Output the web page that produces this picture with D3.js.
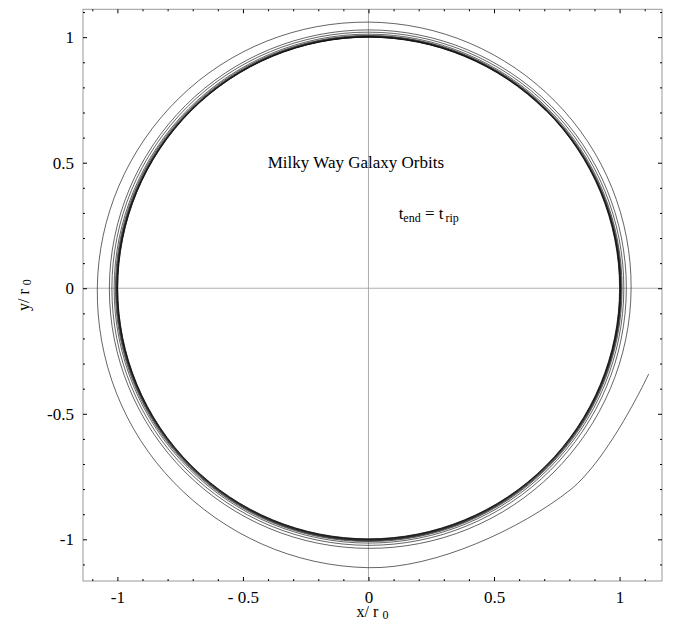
<!DOCTYPE html>
<html>
<head>
<meta charset="utf-8">
<script src="https://cdn.jsdelivr.net/npm/d3@7"></script>
<style>
body { margin: 0; background: #fff; }
text { font-family: "Liberation Serif", "Times New Roman", serif; fill: #000; }
</style>
</head>
<body>
<svg id="chart"></svg>
<script>
// axis ticks
var majorTicks = [-1, -0.5, 0, 0.5, 1];
var xTickLabels = ["-1", "- 0.5", "0", "0.5", "1"];
var yTickLabels = ["-1", "-0.5", "0", "0.5", "1"];
var minorTicks = [-1.1, -0.9, -0.8, -0.7, -0.6, -0.4, -0.3, -0.2, -0.1,
                  0.1, 0.2, 0.3, 0.4, 0.6, 0.7, 0.8, 0.9, 1.1];

// orbit radius (in r0) read at these angles, one row per turn
var sampleAngles = [0, 45, 90, 135, 180, 225, 270, 315];
var orbitRadii = [
    [0.999, 0.999, 1.000, 0.999, 0.999, 0.998, 0.998, 0.999],
    [1.000, 1.000, 1.000, 1.000, 0.999, 0.999, 0.999, 1.000],
    [1.001, 1.001, 1.001, 1.000, 1.000, 1.000, 1.000, 1.001],
    [1.002, 1.002, 1.001, 1.001, 1.001, 1.001, 1.001, 1.002],
    [1.003, 1.002, 1.002, 1.002, 1.002, 1.002, 1.003, 1.003],
    [1.004, 1.003, 1.003, 1.003, 1.003, 1.004, 1.004, 1.005],
    [1.005, 1.005, 1.005, 1.005, 1.005, 1.006, 1.006, 1.007],
    [1.007, 1.007, 1.007, 1.008, 1.008, 1.009, 1.009, 1.010],
    [1.010, 1.011, 1.012, 1.012, 1.013, 1.014, 1.015, 1.016],
    [1.017, 1.019, 1.020, 1.021, 1.022, 1.023, 1.024, 1.025],
    [1.027, 1.028, 1.029, 1.030, 1.032, 1.034, 1.036, 1.040],
    [1.046, 1.052, 1.060, 1.069, 1.080, 1.095, 1.113, 1.136]
];
var orbitEnd = { angle: 343, radius: 1.167 };

var titleText = "Milky Way Galaxy Orbits";

make_orbit_chart = function () {

    var width = 677, height = 622;
    var margin = { top: 9.3, right: 15, bottom: 41, left: 83 };

    var x = d3.scaleLinear()
        .domain([-1.137, 1.169])
        .range([margin.left, width - margin.right]);

    var y = d3.scaleLinear()
        .domain([-1.166, 1.111])
        .range([height - margin.bottom, margin.top]);

    var svg = d3.select("#chart")
        .attr("width", width)
        .attr("height", height);

    // zero axes
    svg.append("line")
        .attr("x1", x(0)).attr("x2", x(0))
        .attr("y1", y.range()[0]).attr("y2", y.range()[1])
        .attr("stroke", "#999").attr("stroke-width", 0.8);
    svg.append("line")
        .attr("x1", x.range()[0]).attr("x2", x.range()[1])
        .attr("y1", y(0)).attr("y2", y(0))
        .attr("stroke", "#999").attr("stroke-width", 0.8);

    // orbit points
    var pts = [];
    orbitRadii.forEach(function (turn) {
        turn.forEach(function (r, j) {
            var a = sampleAngles[j] * Math.PI / 180;
            pts.push([r * Math.cos(a), r * Math.sin(a)]);
        });
    });
    var ea = orbitEnd.angle * Math.PI / 180;
    pts.push([orbitEnd.radius * Math.cos(ea), orbitEnd.radius * Math.sin(ea)]);
    var n = pts.length;

    var orbit = d3.line()
        .x(d => x(d[0]))
        .y(d => y(d[1]));

    // main loops: open spline, outer points only steer the tangents
    svg.append("path")
        .datum(pts.slice(0, n - 1))
        .attr("fill", "none")
        .attr("stroke", "#111")
        .attr("stroke-width", 0.65)
        .attr("d", orbit.curve(d3.curveCardinalOpen.tension(-0.125)));

    // last stretch to the end point (uneven spacing)
    svg.append("path")
        .datum(pts.slice(n - 4).concat([pts[n - 1]]))
        .attr("fill", "none")
        .attr("stroke", "#111")
        .attr("stroke-width", 0.65)
        .attr("d", orbit.curve(d3.curveCatmullRomOpen.alpha(0.5)));

    // frame
    svg.append("rect")
        .attr("x", x.range()[0]).attr("y", y.range()[1])
        .attr("width", x.range()[1] - x.range()[0])
        .attr("height", y.range()[0] - y.range()[1])
        .attr("fill", "none")
        .attr("stroke", "#999")
        .attr("stroke-width", 1);

    var styleAxis = g => g
        .call(g => g.select(".domain").remove())
        .call(g => g.selectAll(".tick line").attr("stroke", "#000"))
        .call(g => g.selectAll(".tick text")
            .attr("font-family", "Liberation Serif, Times New Roman, serif")
            .attr("font-size", 17));

    // bottom + left with labels
    svg.append("g")
        .attr("transform", `translate(0,${y.range()[0]})`)
        .call(d3.axisBottom(x).tickValues(majorTicks).tickSize(-4).tickPadding(9.5)
            .tickFormat((d, i) => xTickLabels[i]))
        .call(styleAxis);
    svg.append("g")
        .attr("transform", `translate(${x.range()[0]},0)`)
        .call(d3.axisLeft(y).tickValues(majorTicks).tickSize(-4).tickPadding(9)
            .tickFormat((d, i) => yTickLabels[i]))
        .call(styleAxis);
    svg.append("g")
        .attr("transform", `translate(0,${y.range()[1]})`)
        .call(d3.axisTop(x).tickValues(majorTicks).tickSize(-4).tickFormat(""))
        .call(styleAxis);
    svg.append("g")
        .attr("transform", `translate(${x.range()[1]},0)`)
        .call(d3.axisRight(y).tickValues(majorTicks).tickSize(-4).tickFormat(""))
        .call(styleAxis);

    // minor ticks
    svg.append("g")
        .attr("transform", `translate(0,${y.range()[0]})`)
        .call(d3.axisBottom(x).tickValues(minorTicks).tickSize(-2).tickFormat(""))
        .call(styleAxis);
    svg.append("g")
        .attr("transform", `translate(0,${y.range()[1]})`)
        .call(d3.axisTop(x).tickValues(minorTicks).tickSize(-2).tickFormat(""))
        .call(styleAxis);
    svg.append("g")
        .attr("transform", `translate(${x.range()[0]},0)`)
        .call(d3.axisLeft(y).tickValues(minorTicks).tickSize(-2).tickFormat(""))
        .call(styleAxis);
    svg.append("g")
        .attr("transform", `translate(${x.range()[1]},0)`)
        .call(d3.axisRight(y).tickValues(minorTicks).tickSize(-2).tickFormat(""))
        .call(styleAxis);

    // axis titles
    var cx = (x.range()[0] + x.range()[1]) / 2;
    var cy = (y.range()[0] + y.range()[1]) / 2;
    var xl = svg.append("text")
        .attr("x", cx).attr("y", 617)
        .attr("text-anchor", "middle")
        .attr("font-size", 16);
    xl.append("tspan").text("x/ r");
    xl.append("tspan").attr("font-size", 12).attr("dx", 4).attr("dy", 2).text("0");

    var yl = svg.append("text")
        .attr("transform", `translate(29,${cy}) rotate(-90)`)
        .attr("text-anchor", "middle")
        .attr("font-size", 16);
    yl.append("tspan").text("y/ r");
    yl.append("tspan").attr("font-size", 12).attr("dx", 4).attr("dy", 2).text("0");

    // annotations
    svg.append("text")
        .attr("x", x(-0.05)).attr("y", y(0.5) + 5)
        .attr("text-anchor", "middle")
        .attr("font-size", 17)
        .text(titleText);

    var t = svg.append("text")
        .attr("x", x(0.24)).attr("y", y(0.3) + 6)
        .attr("text-anchor", "middle")
        .attr("font-size", 17);
    t.append("tspan").text("t");
    t.append("tspan").attr("font-size", 12).attr("dy", 3).text("end");
    t.append("tspan").attr("dy", -3).text(" = t");
    t.append("tspan").attr("font-size", 12).attr("dx", 2).attr("dy", 3).text("rip");
};

make_orbit_chart();
</script>
</body>
</html>
